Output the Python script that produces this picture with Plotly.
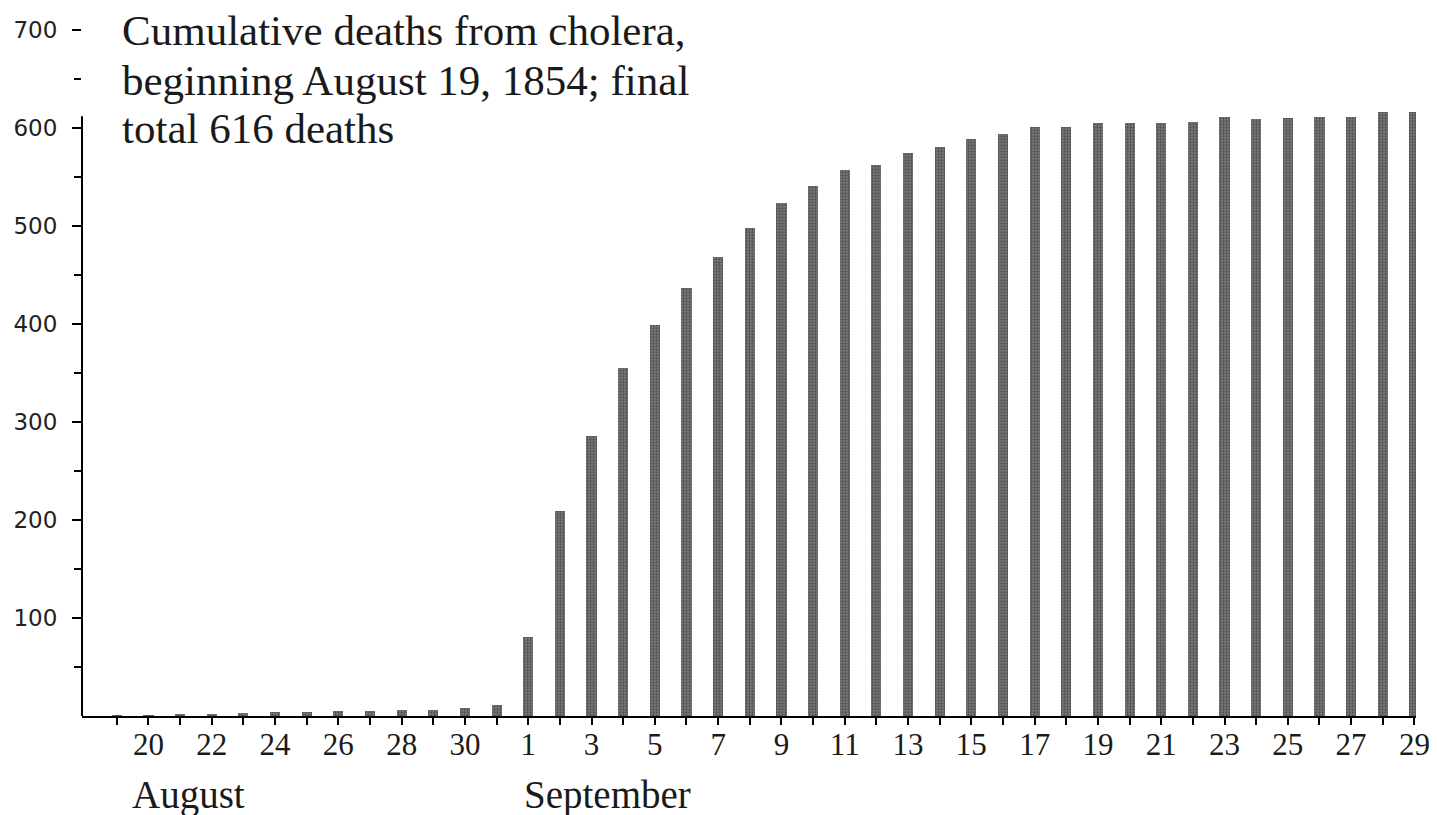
import plotly.graph_objects as go

# Days from Aug 19 to Sep 29, 1854 (index 0 = Aug 19)
day_labels = ["19", "20", "21", "22", "23", "24", "25", "26", "27", "28", "29", "30", "31",
              "1", "2", "3", "4", "5", "6", "7", "8", "9", "10", "11", "12", "13", "14", "15",
              "16", "17", "18", "19", "20", "21", "22", "23", "24", "25", "26", "27", "28", "29"]
# Cumulative deaths
cumulative_deaths = [1, 1, 2, 2, 3, 4, 4, 5, 5, 6, 6, 8, 11,
                     81, 209, 286, 355, 399, 437, 468, 498, 523, 541, 557, 562, 574, 581, 589,
                     594, 601, 601, 605, 605, 605, 606, 611, 609, 610, 611, 611, 616, 616]
# only every other day gets a printed label
labelled_days = ["20", "22", "24", "26", "28", "30", "1", "3", "5", "7", "9", "11", "13", "15",
                 "17", "19", "21", "23", "25", "27", "29"]
y_major = [100, 200, 300, 400, 500, 600, 700]
y_minor = [50, 150, 250, 350, 450, 550, 650]

days = list(range(len(day_labels)))
tick_text = []
lab = list(labelled_days)
for i, d in enumerate(day_labels):
    if i % 2 == 1 and lab and lab[0] == d:
        tick_text.append(lab.pop(0))
    else:
        tick_text.append("")

fig = go.Figure()

fig.add_trace(go.Bar(
    x=days,
    y=cumulative_deaths,
    width=0.32,
    marker=dict(
        color="#6e6e6e",
        line=dict(width=0),
        pattern=dict(shape=".", fgcolor="#262626", bgcolor="#7a7a7a", size=3, solidity=0.45),
    ),
    showlegend=False,
))

serif = "Liberation Serif"

# page body adds 8px, so the figure is a bit smaller than the window
fig.update_layout(
    width=1429,
    height=807,
    margin=dict(l=74, r=21, t=22, b=99),
    paper_bgcolor="white",
    plot_bgcolor="white",
    bargap=0,
)

fig.update_xaxes(
    range=[-1.1, 41.05],
    tickvals=days,
    ticktext=tick_text,
    ticks="outside",
    ticklen=7,
    tickwidth=1.5,
    tickcolor="black",
    showline=True,
    linecolor="black",
    linewidth=2,
    showgrid=False,
    zeroline=False,
    automargin=False,
    tickfont=dict(family=serif, size=31, color="#1a1a1a"),
    ticklabelstandoff=-7,
)

fig.update_yaxes(
    range=[0, 700],
    tickvals=y_major,
    ticks="outside",
    ticklen=9,
    tickwidth=1.5,
    tickcolor="black",
    showline=False,
    showgrid=False,
    zeroline=False,
    automargin=False,
    tickfont=dict(family="DejaVu Sans", size=23, color="#222222"),
    ticklabelstandoff=10,
    minor=dict(tickvals=y_minor, ticks="outside", ticklen=7, tickwidth=1.5, tickcolor="black"),
)

# left axis line only reaches just above 600
fig.add_shape(type="line", xref="paper", yref="y", x0=0, x1=0, y0=0, y1=612,
              line=dict(color="black", width=2))

title_lines = ["Cumulative deaths from cholera,", "beginning August 19, 1854; final", "total 616 deaths"]
title_y = [0.999, 0.927, 0.856]
for txt, yy in zip(title_lines, title_y):
    fig.add_annotation(text=txt, xref="paper", yref="paper", x=0.0285, y=yy,
                       xanchor="left", yanchor="middle", showarrow=False,
                       font=dict(family=serif, size=43, color="#1a1a1a"))

fig.add_annotation(text="August", xref="paper", yref="paper", x=0.036, y=-0.115,
                   xanchor="left", yanchor="middle", showarrow=False,
                   font=dict(family=serif, size=39, color="#1a1a1a"))
fig.add_annotation(text="September", xref="paper", yref="paper", x=0.330, y=-0.115,
                   xanchor="left", yanchor="middle", showarrow=False,
                   font=dict(family=serif, size=39, color="#1a1a1a"))

fig.write_html("out.html")
